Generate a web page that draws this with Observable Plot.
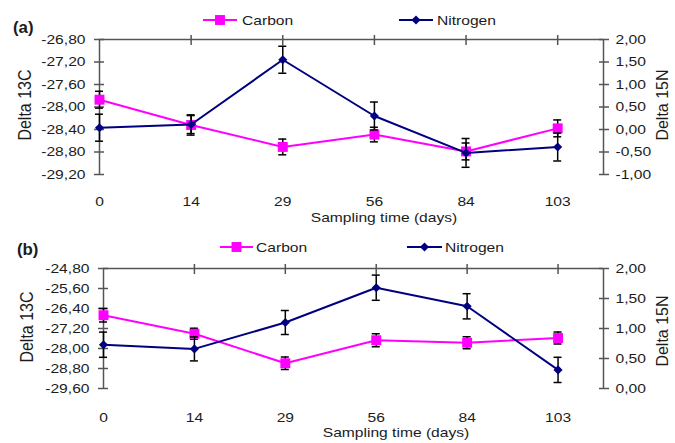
<!DOCTYPE html>
<html><head><meta charset="utf-8">
<script src="https://cdn.jsdelivr.net/npm/d3@7"></script>
<script src="https://cdn.jsdelivr.net/npm/@observablehq/plot@0.6"></script>
<style>
body{margin:0;background:#fff;}
#chart{position:relative;width:675px;height:443px;overflow:hidden;background:#fff;font-family:"Liberation Sans",Arial,sans-serif;color:#1c1c1c;}
.lbl{position:absolute;white-space:nowrap;line-height:1;}
</style></head><body><div id="chart"></div>
<script>
// ---- data ----
const days = ["0", "14", "29", "56", "84", "103"];
const carbonA = [-27.87, -28.32, -28.71, -28.49, -28.79, -28.38];
const carbonErrA = [0.15, 0.18, 0.14, 0.13, 0.15, 0.15];
const nitrogenA = [0.04, 0.11, 1.55, 0.30, -0.52, -0.39];
const nitrogenErrA = [0.30, 0.20, 0.30, 0.31, 0.32, 0.31];
const carbonB = [-26.67, -27.41, -28.59, -27.67, -27.77, -27.58];
const carbonErrB = [0.27, 0.22, 0.25, 0.26, 0.24, 0.24];
const nitrogenB = [0.73, 0.66, 1.10, 1.68, 1.37, 0.31];
const nitrogenErrB = [0.21, 0.20, 0.20, 0.21, 0.21, 0.21];
const leftTicksA = [-29.2, -28.8, -28.4, -28.0, -27.6, -27.2, -26.8];
const rightTicksA = [-1.0, -0.5, 0.0, 0.5, 1.0, 1.5, 2.0];
const leftTicksB = [-29.6, -28.8, -28.0, -27.2, -26.4, -25.6, -24.8];
const rightTicksB = [0.0, 0.5, 1.0, 1.5, 2.0];
const seriesNames = ["Carbon", "Nitrogen"];
const panelLabels = ["(a)", "(b)"];
const xTitle = "Sampling time (days)";
const yLeftTitle = "Delta 13C";
const yRightTitle = "Delta 15N";

// ---- layout / style ----
const W = 675, H = 443;
const C_COLOR = "#FF00FF", N_COLOR = "#000080", FRAME = "#555", TXT = "#1c1c1c";
const SX = 1.2;
const panels = [
  {carbon: carbonA, cErr: carbonErrA, nitrogen: nitrogenA, nErr: nitrogenErrA, lt: leftTicksA, rt: rightTicksA,
   left: 99, right: 603, top: 39, bottom: 174, xPad: 22},
  {carbon: carbonB, cErr: carbonErrB, nitrogen: nitrogenB, nErr: nitrogenErrB, lt: leftTicksB, rt: rightTicksB,
   left: 103, right: 603, top: 268, bottom: 388, xPad: 24}
];
const fmt = d => d.toFixed(2).replace(".", ",");
const chart = document.getElementById("chart");

function layer(p, isC) {
  const idx = days.map((_, i) => i);
  const vals = isC ? p.carbon : p.nitrogen;
  const errs = isC ? p.cErr : p.nErr;
  const data = idx.map(i => ({i, v: vals[i], e: errs[i]}));
  const ticks = isC ? p.lt : p.rt;
  const color = isC ? C_COLOR : N_COLOR;
  const xMax = idx.length - 0.5;
  const marks = [];
  if (isC) {
    marks.push(Plot.ruleY([ticks[ticks.length - 1]], {stroke: FRAME, strokeWidth: 1.5}));
    marks.push(Plot.ruleX([0], {stroke: FRAME, strokeWidth: 1.5}));
    marks.push(Plot.axisX(idx.slice(1), {anchor: "top", tickSize: 10, dy: 5, tickFormat: () => "", stroke: FRAME, strokeWidth: 1.5, label: null}));
    marks.push(Plot.axisX(idx, {anchor: "bottom", tickSize: 0, tickPadding: p.xPad, tickFormat: i => days[i], label: null}));
    marks.push(Plot.axisY(ticks, {anchor: "left", tickSize: 10, dx: 5, tickFormat: () => "", stroke: FRAME, strokeWidth: 1.5, label: null}));
    marks.push(Plot.axisY(ticks, {anchor: "left", tickSize: 0, tickPadding: 14, tickFormat: fmt, label: null}));
  } else {
    marks.push(Plot.ruleX([xMax], {stroke: FRAME, strokeWidth: 1.5}));
    marks.push(Plot.axisY(ticks, {anchor: "right", tickSize: 10, dx: -5, tickFormat: () => "", stroke: FRAME, strokeWidth: 1.5, label: null}));
    marks.push(Plot.axisY(ticks, {anchor: "right", tickSize: 0, tickPadding: 12, tickFormat: fmt, label: null}));
  }
  marks.push(Plot.line(data, {x: "i", y: "v", stroke: color, strokeWidth: 2}));
  marks.push(Plot.ruleX(data, {x: "i", y1: d => d.v - d.e, y2: d => d.v + d.e, stroke: "#000", strokeWidth: 1.5}));
  marks.push(Plot.ruleY(data, {y: d => d.v + d.e, x1: "i", x2: "i", insetLeft: -4, insetRight: -4, stroke: "#000", strokeWidth: 1.5}));
  marks.push(Plot.ruleY(data, {y: d => d.v - d.e, x1: "i", x2: "i", insetLeft: -4, insetRight: -4, stroke: "#000", strokeWidth: 1.5}));
  marks.push(Plot.dot(data, {x: "i", y: "v", symbol: isC ? "square" : "diamond2", r: isC ? 5.6 : 4.1, fill: color, stroke: "none"}));
  const svg = Plot.plot({
    width: W, height: H,
    marginLeft: p.left, marginRight: W - p.right, marginTop: p.top, marginBottom: H - p.bottom,
    x: {domain: [0, xMax], axis: null},
    y: {domain: [ticks[0], ticks[ticks.length - 1]], axis: null},
    style: {position: "absolute", left: "0px", top: "0px", background: "transparent", overflow: "visible",
            fontFamily: '"Liberation Sans", Arial, sans-serif', fontSize: "13px", color: TXT},
    marks
  });
  chart.appendChild(svg);
  svg.querySelectorAll("text").forEach(t => {
    const len = t.getComputedTextLength();
    if (len > 0) { t.setAttribute("textLength", len * SX); t.setAttribute("lengthAdjust", "spacingAndGlyphs"); }
  });
}

function label(txt, {x, cy, size = 13, weight = "normal", anchor = "start", rotate = false, sx = SX}) {
  const d = document.createElement("div");
  d.className = "lbl";
  d.textContent = txt;
  d.style.fontSize = size + "px";
  d.style.fontWeight = weight;
  d.style.left = x + "px";
  if (rotate) {
    d.style.top = cy + "px";
    d.style.transformOrigin = "0 0";
    d.style.transform = `scaleX(${sx}) rotate(-90deg) translate(-50%, -50%)`;
  } else {
    d.style.top = (cy - 0.488 * size) + "px";
    if (anchor === "middle") { d.style.transform = `translateX(-50%) scaleX(${sx})`; d.style.transformOrigin = "50% 50%"; }
    else { d.style.transform = `scaleX(${sx})`; d.style.transformOrigin = "0 50%"; }
  }
  chart.appendChild(d);
}

panels.forEach(p => { layer(p, true); layer(p, false); });

// panel labels, titles
const yCenters = [105, 327];
const xTitlePos = [{x: 384, cy: 217.5}, {x: 396, cy: 432.8}];
const yLeftX = [25, 27];
const yRightX = [663, 663];
panels.forEach((p, k) => {
  label(panelLabels[k], {x: k ? 17 : 13, cy: k ? 250 : 28, size: 16, weight: "bold", sx: 1.05});
  label(xTitle, {x: xTitlePos[k].x, cy: xTitlePos[k].cy, anchor: "middle"});
  label(yLeftTitle, {x: yLeftX[k], cy: yCenters[k], size: 16, rotate: true, sx: 1.15});
  label(yRightTitle, {x: yRightX[k], cy: yCenters[k] + (k ? 4 : 0), size: 16, rotate: true, sx: 1.05});
});

// legends
const legendPos = [
  [{x1: 203, x2: 237, y: 20, tx: 242}, {x1: 399, x2: 433, y: 20, tx: 437}],
  [{x1: 220, x2: 253, y: 247, tx: 256}, {x1: 407, x2: 442, y: 247, tx: 445}]
];
const ns = "http://www.w3.org/2000/svg";
const lsvg = document.createElementNS(ns, "svg");
lsvg.setAttribute("width", W); lsvg.setAttribute("height", H);
lsvg.style.position = "absolute"; lsvg.style.left = "0"; lsvg.style.top = "0";
chart.appendChild(lsvg);
legendPos.forEach(row => row.forEach((L, s) => {
  const color = s === 0 ? C_COLOR : N_COLOR;
  const ln = document.createElementNS(ns, "line");
  ln.setAttribute("x1", L.x1); ln.setAttribute("x2", L.x2); ln.setAttribute("y1", L.y); ln.setAttribute("y2", L.y);
  ln.setAttribute("stroke", color); ln.setAttribute("stroke-width", 2);
  lsvg.appendChild(ln);
  const cx = (L.x1 + L.x2) / 2;
  const m = document.createElementNS(ns, "path");
  m.setAttribute("d", d3.symbol(s === 0 ? d3.symbolSquare : d3.symbolDiamond2, s === 0 ? Math.PI * 5.6 * 5.6 : Math.PI * 4.1 * 4.1)());
  m.setAttribute("transform", `translate(${cx},${L.y})`);
  m.setAttribute("fill", color);
  lsvg.appendChild(m);
  label(seriesNames[s], {x: L.tx, cy: L.y});
}));
</script></body></html>
